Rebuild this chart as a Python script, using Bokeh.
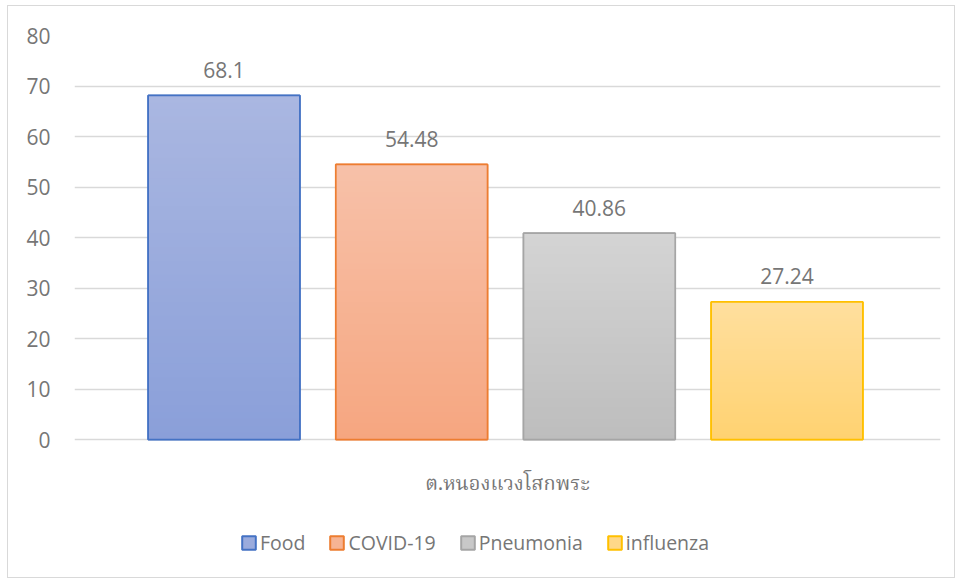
import numpy as np
from bokeh.plotting import figure
from bokeh.models import ColumnDataSource, FactorRange, Range1d, Legend, LegendItem
from bokeh.transform import dodge
from bokeh.core.properties import value
from bokeh.embed import file_html
from bokeh.resources import INLINE

category = "ต.หนองแวงโสกพระ"
series = ["Food", "COVID-19", "Pneumonia", "influenza"]
values = [68.1, 54.48, 40.86, 27.24]
value_labels = ["68.1", "54.48", "40.86", "27.24"]
y_ticks = [0, 10, 20, 30, 40, 50, 60, 70, 80]
edge_colors = ["#4472c4", "#ed7d31", "#a5a5a5", "#ffc000"]
top_colors = ["#aab7e1", "#f7c1a9", "#d4d4d4", "#ffdf9e"]
bottom_colors = ["#8a9fd9", "#f6a680", "#bdbdbd", "#ffd271"]

TEXT = "#767676"
GRID = "#d9d9d9"
FONT = "Open Sans"

# layout (pixels)
W, H = 948, 573
ML, MR, MT, MB = 66, 16, 29, 7
frame_h = H - MT - MB
axis_px = 404            # pixels from 0 to 80
y_max = 80
y_min = -(frame_h - axis_px) * y_max / axis_px

slot = 0.2167
bar_w = 0.175
group_shift = -0.0023
offsets = [(i - 1.5) * slot + group_shift for i in range(len(series))]

p = figure(width=W, height=H, x_range=FactorRange(factors=[category]),
           y_range=Range1d(y_min, y_max), output_backend="svg", toolbar_location=None,
           min_border_left=ML, min_border_right=MR, min_border_top=MT, min_border_bottom=MB,
           styles={"border": "1px solid #d9d9d9", "margin-left": "7px", "margin-top": "5px"})
p.outline_line_color = None
p.background_fill_color = "white"
p.border_fill_color = "white"


def hex2rgb(h):
    h = h.lstrip("#")
    return np.array([int(h[i:i + 2], 16) for i in (0, 2, 4)], dtype=float)


def mix(c0, c1, t):
    c = hex2rgb(c0) * (1 - t) + hex2rgb(c1) * t
    return "#%02x%02x%02x" % tuple(int(round(v)) for v in c)


N = 50
legend_items = []
for i, name in enumerate(series):
    v = values[i]
    xd = dodge("x", offsets[i], range=p.x_range)
    bsrc = ColumnDataSource(dict(x=[category], top=[v]))
    r = p.vbar(x=xd, width=bar_w, bottom=0, top="top", source=bsrc,
               fill_color=mix(bottom_colors[i], top_colors[i], 0.5),
               line_color=edge_colors[i], line_width=2)
    legend_items.append(LegendItem(label=name, renderers=[r]))
    bottoms = [v * k / N for k in range(N)]
    tops = [min(v, v * (k + 1.6) / N) for k in range(N)]
    cols = [mix(bottom_colors[i], top_colors[i], (k + 0.5) / N) for k in range(N)]
    src = ColumnDataSource(dict(x=[category] * N, bottom=bottoms, top=tops, color=cols))
    p.vbar(x=xd, width=bar_w, bottom="bottom", top="top", source=src,
           fill_color="color", line_color=None)
    p.vbar(x=xd, width=bar_w, bottom=0, top="top", source=bsrc,
           fill_color=None, line_color=edge_colors[i], line_width=1.5)
    lsrc = ColumnDataSource(dict(x=[category], y=[v], t=[value_labels[i]]))
    p.text(x=xd, y="y", text="t", source=lsrc, text_align="center",
           text_baseline="middle", y_offset=-25.5, text_color=TEXT,
           text_font=value(FONT), text_font_size="21px")

# category label under the baseline
csrc = ColumnDataSource(dict(x=[category], y=[0], t=[category]))
p.text(x="x", y="y", text="t", source=csrc, text_align="center", text_baseline="middle",
       y_offset=45.5, text_color=TEXT, text_font=value("Noto Serif Thai"),
       text_font_size="20px")

p.yaxis.ticker = y_ticks
p.yaxis.axis_line_color = None
p.yaxis.major_tick_line_color = None
p.yaxis.minor_tick_line_color = None
p.yaxis.major_tick_out = 0
p.yaxis.major_tick_in = 0
p.yaxis.major_label_standoff = 24
p.yaxis.major_label_text_font = FONT
p.yaxis.major_label_text_font_size = "21px"
p.yaxis.major_label_text_color = TEXT
p.xaxis.visible = False

p.xgrid.grid_line_color = None
p.ygrid.grid_line_color = GRID
p.ygrid.grid_line_width = 1.5

legend = Legend(items=legend_items, orientation="horizontal", location=(166, 16),
                glyph_width=17, glyph_height=17, label_standoff=3, spacing=23,
                padding=0, margin=0, border_line_color=None, background_fill_alpha=0,
                label_text_font=FONT, label_text_font_size="19.5px", label_text_color=TEXT)
p.add_layout(legend, "center")

open("out.html", "w").write(file_html(p, INLINE))
